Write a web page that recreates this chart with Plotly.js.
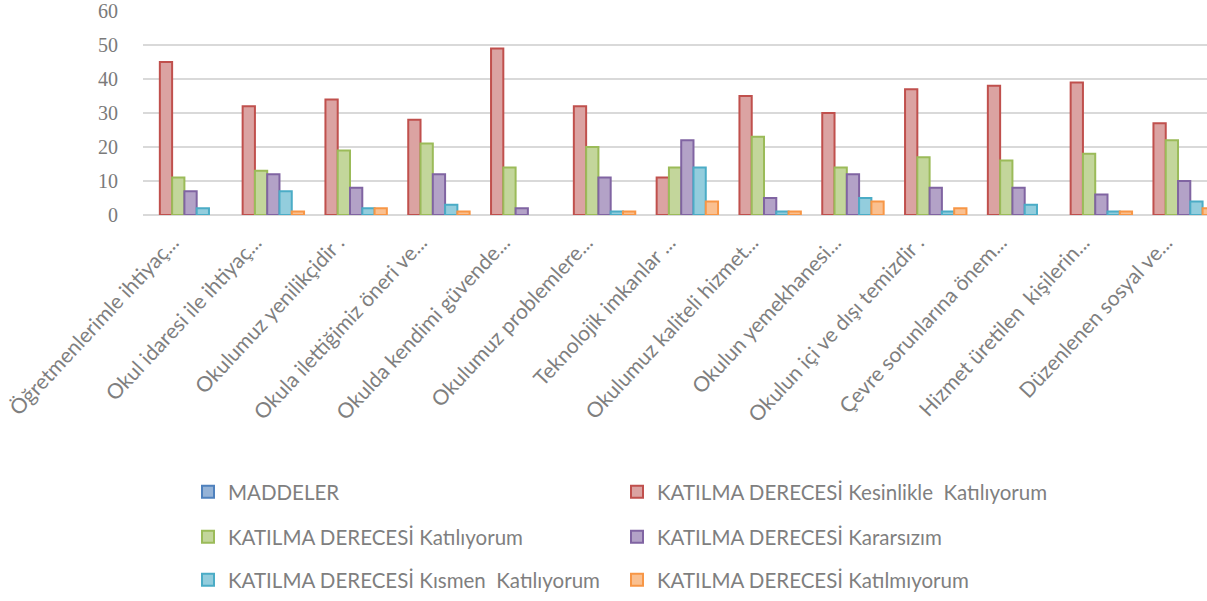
<!DOCTYPE html>
<html>
<head>
<meta charset="utf-8">
<script src="https://cdn.plot.ly/plotly-3.0.1.min.js"></script>
<style>
html,body{margin:0;padding:0;background:#fff;overflow:hidden;}
#chart{width:1207px;height:601px;}
</style>
</head>
<body>
<div id="chart"></div>
<script>
const categories = [
  "Öğretmenlerimle ihtiyaç...",
  "Okul idaresi ile ihtiyaç...",
  "Okulumuz yenilikçidir .",
  "Okula ilettiğimiz öneri ve...",
  "Okulda kendimi güvende...",
  "Okulumuz problemlere...",
  "Teknolojik imkanlar ...",
  "Okulumuz kaliteli hizmet...",
  "Okulun yemekhanesi...",
  "Okulun içi ve dışı temizdir .",
  "Çevre sorunlarına önem...",
  "Hizmet üretilen  kişilerin...",
  "Düzenlenen sosyal ve..."
];
const seriesNames = [
  "MADDELER",
  "KATILMA DERECESİ Kesinlikle  Katılıyorum",
  "KATILMA DERECESİ Katılıyorum",
  "KATILMA DERECESİ Kararsızım",
  "KATILMA DERECESİ Kısmen  Katılıyorum",
  "KATILMA DERECESİ Katılmıyorum"
];
const maddeler     = [null,null,null,null,null,null,null,null,null,null,null,null,null];
const kesinlikle   = [45,32,34,28,49,32,11,35,30,37,38,39,27];
const katiliyorum  = [11,13,19,21,14,20,14,23,14,17,16,18,22];
const kararsizim   = [7,12,8,12,2,11,22,5,12,8,8,6,10];
const kismen       = [2,7,2,3,0,1,14,1,5,1,3,1,4];
const katilmiyorum = [0,1,2,1,0,1,4,1,4,2,0,1,2];
const yTicks = [0,10,20,30,40,50,60];

const values = [maddeler,kesinlikle,katiliyorum,kararsizim,kismen,katilmiyorum];
const fills  = ["#95b3d7","#dba3a2","#c3d69b","#b3a2c7","#93cddd","#fac090"];
const lines  = ["#4f81bd","#c0504d","#9bbb59","#8064a2","#4bacc6","#f79646"];
const legendIds = ["legend","legend2","legend3","legend4","legend5","legend6"];

// zero-height bars are left undrawn (as in the reference)
const traces = values.map((v,i)=>({
  type:"bar",
  name:seriesNames[i],
  x:categories,
  y:v.map(d => (d === 0 ? null : d)),
  marker:{color:fills[i], line:{color:lines[i], width:2}},
  legend:legendIds[i],
  hoverinfo:"y+name"
}));

const plotTop = 11, plotBottom = 215, H = 601;
const plotH = plotBottom - plotTop;
function py(p){ return (plotBottom - p)/plotH; }
const marginL = 143, plotW = 1207 - marginL;
function px(p){ return (p - marginL)/plotW; }

const legFont = {family:"Lato, 'Open Sans', sans-serif", size:20.5, color:"#7f7f7f"};
const rowsY = [492,537,580];
const colsX = [188,617];
const layout = {
  width:1207, height:601,
  margin:{l:marginL, r:0, t:plotTop, b:H-plotBottom},
  paper_bgcolor:"#ffffff", plot_bgcolor:"#ffffff",
  barmode:"group", bargap:0.11, bargroupgap:0,
  showlegend:true,
  xaxis:{
    type:"category",
    range:[-0.5, 12.35],
    tickangle:-47,
    tickfont:{family:"Lato, 'Open Sans', sans-serif", size:21, color:"#7f7f7f"},
    ticks:"outside", ticklen:6, tickcolor:"rgba(0,0,0,0)",
    ticklabelshift:-12,
    showgrid:false, showline:false, zeroline:false,
    automargin:false
  },
  yaxis:{
    range:[0,60],
    tickvals:yTicks,
    ticktext:yTicks.map(String),
    tickfont:{family:"'Liberation Serif', 'DejaVu Serif', serif", size:20, color:"#7a7a7a"},
    ticks:"outside", ticklen:20, tickcolor:"rgba(0,0,0,0)",
    showgrid:true, gridcolor:"#d9d9d9", gridwidth:1.5,
    zeroline:true, zerolinecolor:"#d9d9d9", zerolinewidth:1.5,
    showline:false, automargin:false
  }
};
legendIds.forEach((id,i)=>{
  layout[id] = {
    x:px(colsX[i%2]), y:py(rowsY[Math.floor(i/2)]),
    xanchor:"left", yanchor:"middle",
    orientation:"h", font:legFont,
    bgcolor:"rgba(0,0,0,0)", borderwidth:0
  };
});

Plotly.newPlot("chart", traces, layout, {displayModeBar:false, staticPlot:true});
</script>
</body>
</html>
